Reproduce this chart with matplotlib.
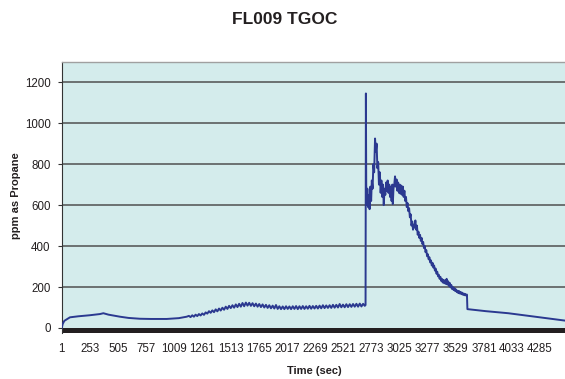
import matplotlib
matplotlib.use("Agg")
import matplotlib.pyplot as plt

plt.rcParams['font.family'] = ['Liberation Sans', 'DejaVu Sans']

# Tick labels on the time axis (category-style, every 252 s)
x_ticks = [1, 253, 505, 757, 1009, 1261, 1513, 1765, 2017, 2269,
           2521, 2773, 3025, 3277, 3529, 3781, 4033, 4285]
y_ticks = [0, 200, 400, 600, 800, 1000, 1200]

# TGOC trace: time (sec) and concentration (ppm as propane)
time_sec = [
    1, 10, 25, 46, 75, 150, 250, 344, 374, 420, 523, 600, 702, 800, 941, 1050, 1120,
    1140, 1155, 1170, 1185, 1200, 1215, 1230, 1245, 1260, 1275, 1290, 1305,
    1320, 1335, 1350, 1365, 1380, 1395, 1410, 1425, 1440, 1455, 1470, 1485,
    1500, 1515, 1530, 1545, 1560, 1575, 1590, 1605, 1620, 1635, 1650, 1665,
    1680, 1695, 1710, 1725, 1740, 1755, 1770, 1785, 1800, 1815, 1830, 1845,
    1860, 1875, 1890, 1905, 1920, 1935, 1950, 1965, 1980, 1995, 2010, 2025,
    2040, 2055, 2070, 2085, 2100, 2115, 2130, 2145, 2160, 2175, 2190, 2205,
    2220, 2235, 2250, 2265, 2280, 2295, 2310, 2325, 2340, 2355, 2370, 2385,
    2400, 2415, 2430, 2445, 2460, 2475, 2490, 2505, 2520, 2535, 2550, 2565,
    2580, 2595, 2610, 2625, 2640, 2655, 2670, 2685, 2700, 2715,
    2722, 2725, 2728, 2732,
    2738, 2745, 2752, 2758, 2765, 2772, 2778, 2785, 2792, 2799, 2807, 2814, 2821,
    2828, 2835, 2842, 2850, 2857, 2864, 2871, 2878, 2885, 2892, 2899, 2906, 2913,
    2920, 2927, 2934, 2941, 2948, 2955, 2962, 2966, 2972, 2979, 2986, 2993, 3000,
    3007, 3014, 3021, 3028, 3035, 3042, 3049, 3056, 3063, 3070, 3077, 3084, 3091,
    3098, 3105, 3112, 3119, 3126, 3133, 3140, 3147, 3154, 3161, 3168, 3175, 3182,
    3189, 3196, 3203, 3210, 3217, 3224, 3231, 3238, 3245, 3252, 3259, 3266, 3273,
    3280, 3287, 3294, 3301, 3308, 3315, 3322, 3329, 3336, 3343, 3350, 3357, 3364,
    3371, 3378, 3385, 3392, 3399, 3406, 3413, 3420, 3427, 3434, 3441, 3448, 3455,
    3462, 3469, 3476, 3483, 3490, 3497, 3504, 3511, 3518, 3525, 3532, 3539, 3546,
    3553, 3560, 3567, 3574, 3581, 3588, 3595, 3602, 3609, 3616, 3623, 3630, 3634,
    3700, 3800, 3900, 4000, 4100, 4200, 4300, 4400, 4508,
]
ppm_propane = [
    0, 20, 35, 42, 52, 57, 62, 68, 72, 65, 55, 49, 45, 44, 44, 48, 55,
    59, 53, 62, 55, 65, 58, 68, 61, 71, 64, 76, 70,
    82, 74, 86, 77, 91, 81, 95, 85, 99, 89, 104, 93,
    108, 97, 111, 99, 115, 102, 118, 104, 122, 106, 124, 109,
    123, 108, 121, 106, 119, 104, 117, 102, 115, 100, 113, 98,
    111, 96, 109, 95, 112, 93, 106, 92, 105, 92, 106, 93,
    105, 92, 106, 93, 107, 92, 106, 93, 107, 93, 106, 94,
    108, 94, 107, 95, 108, 95, 109, 96, 111, 97, 110, 98,
    111, 98, 113, 99, 113, 100, 117, 101, 114, 101, 116, 102,
    116, 103, 117, 104, 118, 104, 119, 105, 118, 108,
    112, 1145, 700, 600,
    680, 590, 650, 580, 690, 620, 720, 680, 800, 760, 925, 860, 900,
    780, 810, 700, 760, 660, 720, 640, 700, 600, 680, 650, 710, 670,
    720, 660, 700, 640, 690, 620, 700, 605, 680, 700, 740, 690, 725,
    670, 710, 660, 700, 655, 695, 650, 690, 640, 670, 620, 640, 590,
    610, 570, 585, 540, 555, 500, 520, 480, 505, 490, 525, 480, 500,
    455, 470, 440, 455, 425, 440, 410, 420, 390, 400, 370, 380, 350,
    360, 335, 345, 320, 330, 305, 318, 295, 305, 280, 290, 265, 275,
    252, 260, 240, 250, 230, 240, 222, 235, 218, 232, 215, 240, 212,
    228, 205, 220, 198, 210, 190, 200, 185, 195, 180, 188, 175, 182,
    170, 180, 168, 176, 165, 172, 162, 168, 160, 166, 158, 163, 92,
    88, 82, 77, 72, 65, 58, 51, 44, 36,
]

fig = plt.figure(figsize=(5.65, 3.79), dpi=100)
fig.patch.set_facecolor('white')
ax = fig.add_axes([0.1092, 0.1214, 0.8908, 0.7158])
ax.set_facecolor('#d4ecec')

ax.set_xlim(1, 4508)
ax.set_ylim(-24.5, 1300)

# horizontal gridlines
for yv in y_ticks[1:]:
    ax.axhline(yv, color='#505050', lw=1.1, zorder=1)

# dark floor band below zero
ax.axhspan(-24.5, 0, color='#231f20', zorder=2, lw=0)

ax.plot(time_sec, ppm_propane, color='#2b3990', lw=1.4, zorder=3)

ax.set_yticks(y_ticks)
ax.set_yticklabels([str(v) for v in y_ticks])
ax.set_xticks(x_ticks)
ax.set_xticklabels([str(v) for v in x_ticks])
ax.tick_params(axis='y', direction='out', length=3, width=0.8, color='#333333',
               pad=5, labelsize=8.3, labelcolor='#231f20')
ax.tick_params(axis='x', length=0, pad=7.5, labelsize=8.3, labelcolor='#231f20')

for side in ('right', 'bottom'):
    ax.spines[side].set_visible(False)
ax.spines['top'].set_color('#a0a0a0')
ax.spines['top'].set_linewidth(1.0)
ax.spines['left'].set_color('#333333')
ax.spines['left'].set_linewidth(0.8)

fig.text(0.503, 1 - 20 / 379, 'FL009 TGOC', ha='center', va='center',
         fontsize=12.5, fontweight='bold', color='#231f20')
fig.text(16.5 / 565, 1 - 196 / 379, 'ppm as Propane', ha='center', va='center',
         rotation=90, fontsize=8, fontweight='bold', color='#231f20')
fig.text(314 / 565, 1 - 371 / 379, 'Time (sec)', ha='center', va='center',
         fontsize=8, fontweight='bold', color='#231f20')

fig.savefig('out.png', dpi=100)
